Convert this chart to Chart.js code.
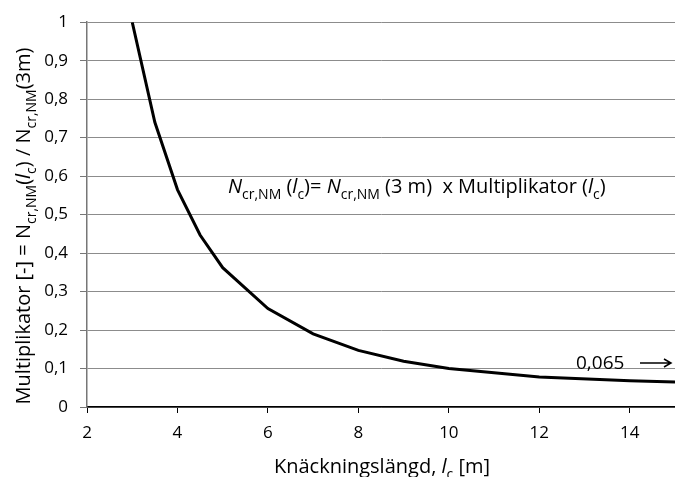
<!DOCTYPE html>
<html>
<head>
<meta charset="utf-8">
<script src="https://cdn.jsdelivr.net/npm/chart.js@4.4.1/dist/chart.umd.min.js"></script>
<style>
  html, body { margin: 0; padding: 0; background: #fff; }
  #wrap { width: 675px; height: 477px; }
</style>
</head>
<body>
<div id="wrap"><canvas id="c" width="675" height="477"></canvas></div>
<script>
// Knäckningslängd l_c [m] och multiplikator [-]
const langd = [3, 3.5, 4, 4.5, 5, 6, 7, 8, 9, 10, 12, 14, 15];
const multiplikator = [1, 0.74, 0.565, 0.447, 0.362, 0.256, 0.19, 0.147, 0.119, 0.1, 0.078, 0.068, 0.065];
const xTicks = [2, 4, 6, 8, 10, 12, 14];
const pilText = "0,065";

const FONT = "'Open Sans', sans-serif";

// rik text: {t, it, sub}
function segFont(s, size) {
  const sz = s.sub ? Math.round(size * 0.7) : size;
  return (s.it ? "italic " : "") + sz + "px " + FONT;
}
function richWidth(ctx, segs, size) {
  let w = 0;
  segs.forEach(s => { ctx.font = segFont(s, size); w += ctx.measureText(s.t).width; });
  return w;
}
function drawRich(ctx, segs, x, y, size) {
  ctx.textBaseline = "alphabetic";
  ctx.textAlign = "left";
  segs.forEach(s => {
    ctx.font = segFont(s, size);
    ctx.fillText(s.t, x, y + (s.sub ? size * 0.28 : 0));
    x += ctx.measureText(s.t).width;
  });
}

const yTitel = [
  {t: "Multiplikator [-] = N"}, {t: "cr,NM", sub: true}, {t: "("}, {t: "l", it: true},
  {t: "c", sub: true}, {t: ") / N"}, {t: "cr,NM", sub: true}, {t: "(3m)"}
];
const xTitel = [{t: "Knäckningslängd, "}, {t: "l", it: true}, {t: "c", sub: true}, {t: " [m]"}];
const formel = [
  {t: "N", it: true}, {t: "cr,NM", sub: true}, {t: " ("}, {t: "l", it: true}, {t: "c", sub: true},
  {t: ")= "}, {t: "N", it: true}, {t: "cr,NM", sub: true}, {t: " (3 m)  x Multiplikator ("},
  {t: "l", it: true}, {t: "c", sub: true}, {t: ")"}
];

const texter = {
  id: "texter",
  afterDraw(chart) {
    const ctx = chart.ctx;
    const ys = chart.scales.y;
    ctx.save();
    ctx.fillStyle = "#000";
    // x-titel
    let w = richWidth(ctx, xTitel, 20);
    drawRich(ctx, xTitel, 382 - w / 2, 473, 20);
    // y-titel
    ctx.save();
    ctx.translate(30, 226);
    ctx.rotate(-Math.PI / 2);
    w = richWidth(ctx, yTitel, 20);
    drawRich(ctx, yTitel, -w / 2, 0, 20);
    ctx.restore();
    // formel
    w = richWidth(ctx, formel, 20);
    drawRich(ctx, formel, 228, 193, 20 * Math.min(1, 385 / w));
    // 0,065 med pil
    ctx.font = "19px " + FONT;
    ctx.fillText(pilText, 576, 369);
    const py = ys.getPixelForValue(multiplikator[multiplikator.length - 1]) - 19;
    ctx.strokeStyle = "#000";
    ctx.lineWidth = 1.5;
    ctx.beginPath();
    ctx.moveTo(640, py); ctx.lineTo(671, py);
    ctx.moveTo(664, py - 4); ctx.lineTo(671, py); ctx.lineTo(664, py + 4);
    ctx.stroke();
    ctx.restore();
  }
};

new Chart(document.getElementById("c"), {
  type: "line",
  data: {
    datasets: [{
      data: langd.map((x, i) => ({x, y: multiplikator[i]})),
      borderColor: "#000",
      borderWidth: 3,
      pointRadius: 0,
      tension: 0,
      fill: false
    }]
  },
  options: {
    responsive: false,
    animation: false,
    layout: { padding: { top: 17, right: 0, left: 0, bottom: 0 } },
    plugins: { legend: { display: false }, tooltip: { enabled: false } },
    scales: {
      x: {
        type: "linear",
        min: 2, max: 15,
        afterBuildTicks: s => { s.ticks = xTicks.map(v => ({value: v})); },
        afterFit: s => { s.height = 70; },
        grid: { drawOnChartArea: false, drawTicks: true, tickLength: 6, tickColor: "#000" },
        border: { color: "#000", width: 1.5 },
        ticks: { color: "#000", font: { family: FONT, size: 17 }, padding: 10, maxRotation: 0 }
      },
      y: {
        min: 0, max: 1,
        afterFit: s => { s.width = 87; },
        grid: { color: "#8c8c8c", lineWidth: 1, tickLength: 7, tickColor: "#777" },
        border: { color: "#777", width: 1.5 },
        ticks: {
          stepSize: 0.1, color: "#000", font: { family: FONT, size: 17 }, padding: 12,
          callback: v => String(Math.round(v * 10) / 10).replace(".", ",")
        }
      }
    }
  },
  plugins: [texter]
});
</script>
</body>
</html>
